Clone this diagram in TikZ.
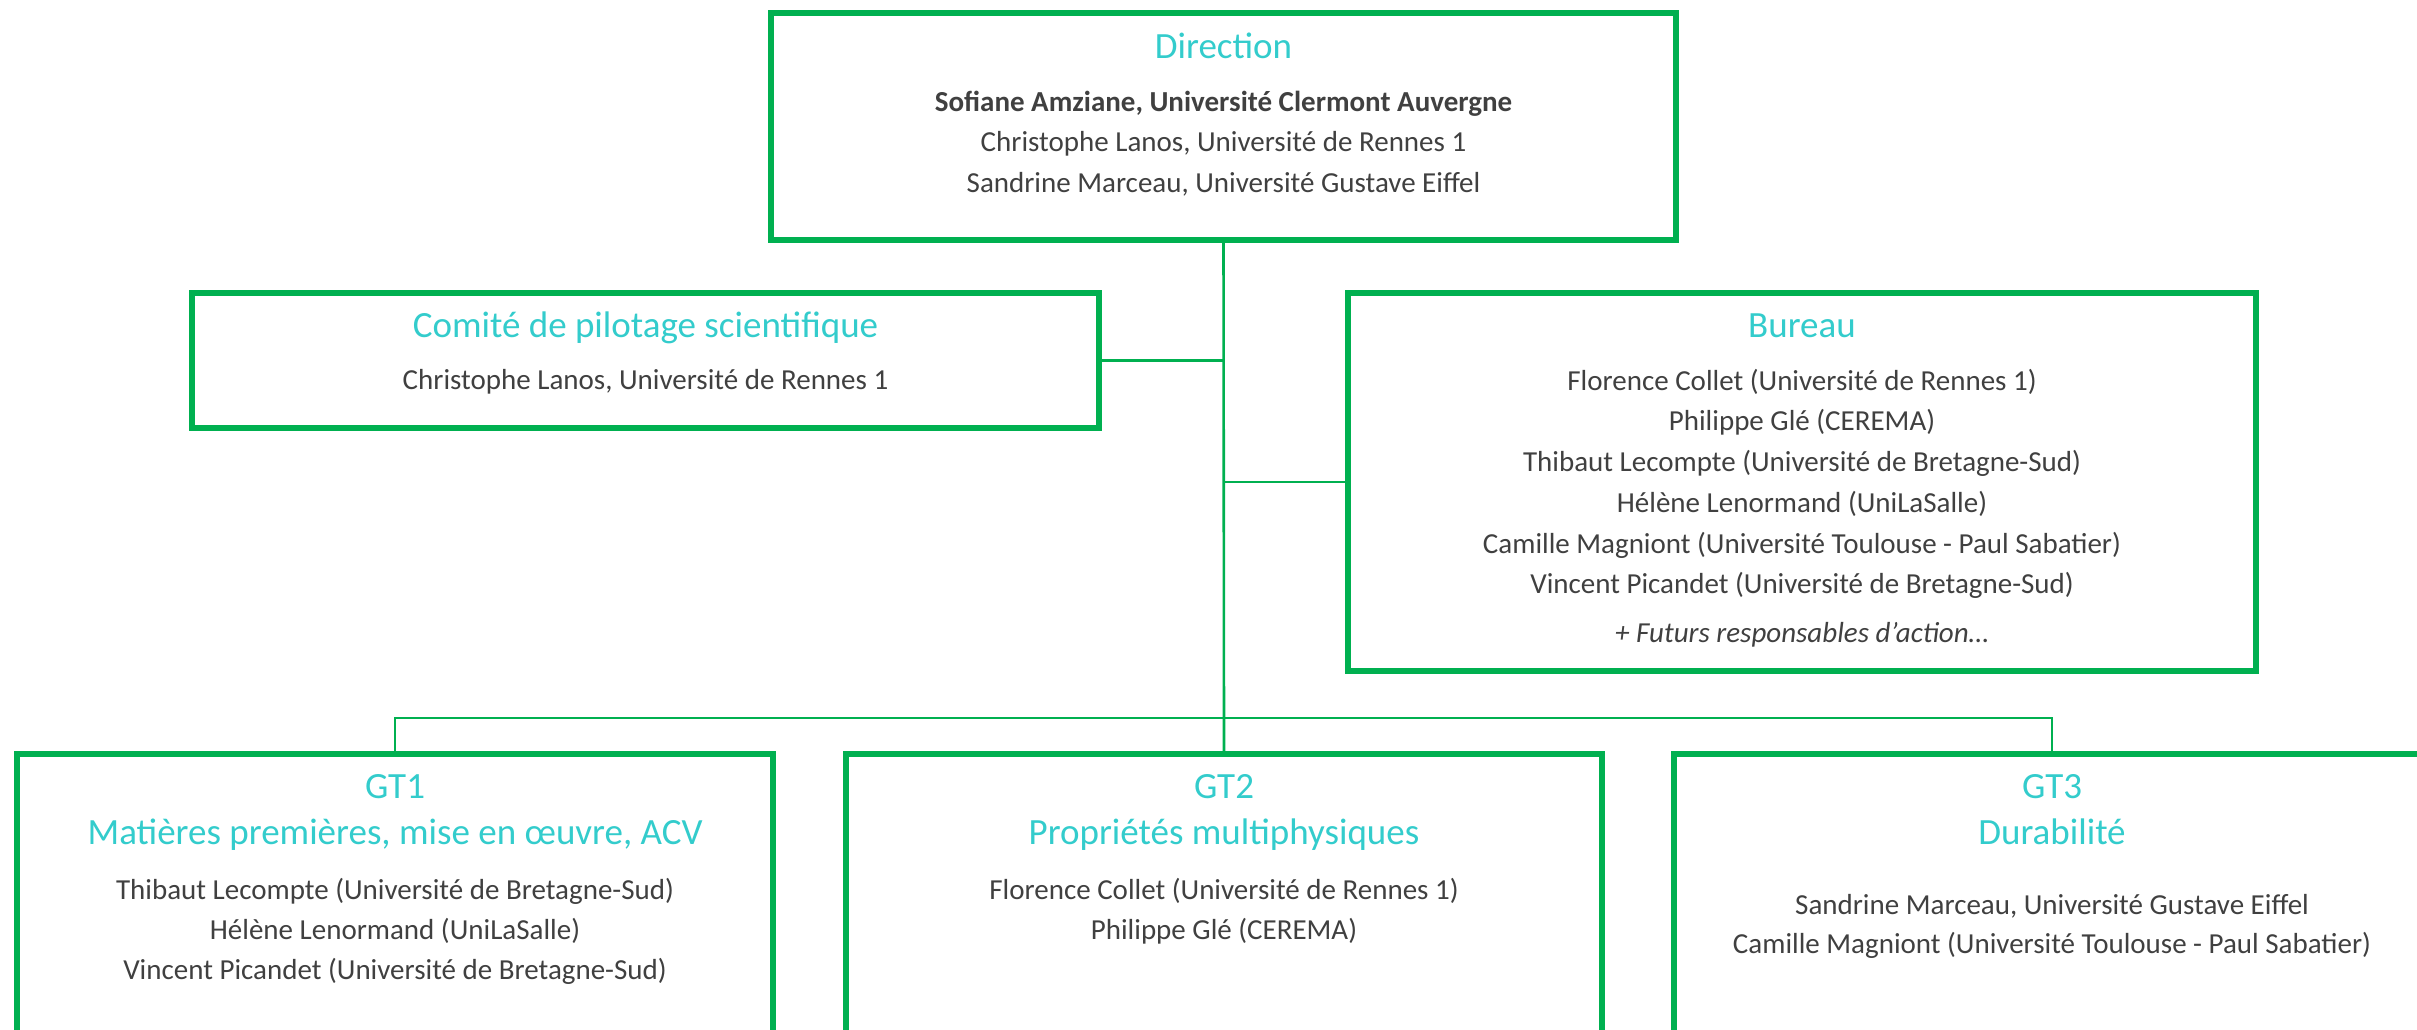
\documentclass[tikz,border=0pt]{standalone}
\usepackage{fontspec}
\setmainfont{Carlito}
\definecolor{boxgreen}{RGB}{0,176,80}
\definecolor{titlecyan}{RGB}{51,204,204}
\definecolor{bodygray}{RGB}{64,64,64}
\begin{document}
\begin{tikzpicture}[x=1pt,y=-1pt,
  orgbox/.style={draw=boxgreen,line width=5.5pt,rectangle,inner sep=0pt,outer sep=0pt,fill=none},
  link/.style={draw=boxgreen,line width=2.6pt},
  ttl/.style={anchor=base,inner sep=0pt,text=titlecyan,font=\fontsize{37}{44}\selectfont},
  bdy/.style={anchor=base,inner sep=0pt,text=bodygray,font=\fontsize{29}{40}\selectfont}]
\path[use as bounding box,clip] (0,0) rectangle (2417,1029);
\fill[white] (0,0) rectangle (2417,1029);
% boxes
\node[orgbox,minimum width=905pt,minimum height=227pt] (dir) at (1223.5,126.5) {};
\node[orgbox,minimum width=907pt,minimum height=135pt] (com) at (645.5,360.5) {};
\node[orgbox,minimum width=908pt,minimum height=378pt] (bur) at (1802,482) {};
\node[orgbox,minimum width=756pt,minimum height=400pt] (gt1) at (395,954) {};
\node[orgbox,minimum width=756pt,minimum height=400pt] (gt2) at (1224,954) {};
\node[orgbox,minimum width=756pt,minimum height=400pt] (gt3) at (2052,954) {};
\coordinate (busy) at (0,718);
% connectors
\draw[link] (dir.south) -- (gt2.north);
\draw[link] (com.east) -- (com.east -| dir.south);
\draw[link] (bur.west) -- (bur.west -| dir.south);
\draw[link] (gt1.north) -- (gt1.north |- busy) -- (gt3.north |- busy) -- (gt3.north);
% Direction
\node[ttl] (dirT) at (1223.5,58) {Direction};
\node[bdy,font=\fontsize{29}{40}\selectfont\bfseries] (dirA) at (1223.5,111) {Sofiane Amziane, Université Clermont Auvergne};
\node[bdy] (dirB) at (1223.5,151) {Christophe Lanos, Université de Rennes 1};
\node[bdy] (dirC) at (1223.5,192) {Sandrine Marceau, Université Gustave Eiffel};
% Comité
\node[ttl] (comT) at (645.5,337) {Comité de pilotage scientifique};
\node[bdy] (comA) at (645.5,389) {Christophe Lanos, Université de Rennes 1};
% Bureau
\node[ttl] (burT) at (1802,337) {Bureau};
\node[bdy] (burA) at (1802,390) {Florence Collet (Université de Rennes 1)};
\node[bdy] (burB) at (1802,430) {Philippe Glé (CEREMA)};
\node[bdy] (burC) at (1802,471) {Thibaut Lecompte (Université de Bretagne-Sud)};
\node[bdy] (burD) at (1802,512) {Hélène Lenormand (UniLaSalle)};
\node[bdy] (burE) at (1802,553) {Camille Magniont (Université Toulouse - Paul Sabatier)};
\node[bdy] (burF) at (1802,593) {Vincent Picandet (Université de Bretagne-Sud)};
\node[bdy,font=\fontsize{29}{40}\selectfont\itshape] (burG) at (1802,642) {+ Futurs responsables d{\char39}action…};
% GT1
\node[ttl] (g1T) at (395,798) {GT1};
\node[ttl] (g1S) at (395,844) {Matières premières, mise en œuvre, ACV};
\node[bdy] (g1A) at (395,899) {Thibaut Lecompte (Université de Bretagne-Sud)};
\node[bdy] (g1B) at (395,939) {Hélène Lenormand (UniLaSalle)};
\node[bdy] (g1C) at (395,979) {Vincent Picandet (Université de Bretagne-Sud)};
% GT2
\node[ttl] (g2T) at (1224,798) {GT2};
\node[ttl] (g2S) at (1224,844) {Propriétés multiphysiques};
\node[bdy] (g2A) at (1224,899) {Florence Collet (Université de Rennes 1)};
\node[bdy] (g2B) at (1224,939) {Philippe Glé (CEREMA)};
% GT3
\node[ttl] (g3T) at (2052,798) {GT3};
\node[ttl] (g3S) at (2052,844) {Durabilité};
\node[bdy] (g3A) at (2052,914) {Sandrine Marceau, Université Gustave Eiffel};
\node[bdy] (g3B) at (2052,953) {Camille Magniont (Université Toulouse - Paul Sabatier)};
\end{tikzpicture}
\end{document}
